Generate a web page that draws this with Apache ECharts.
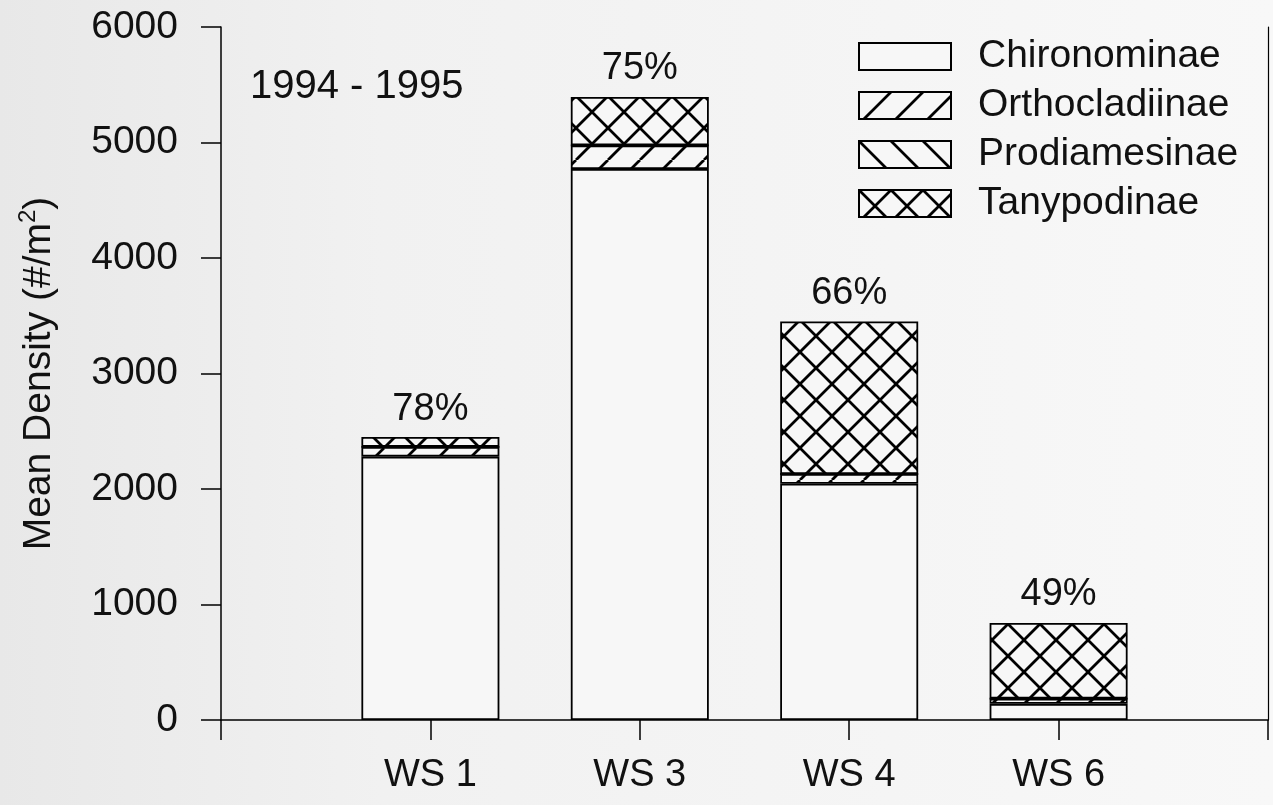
<!DOCTYPE html>
<html>
<head>
<meta charset="utf-8">
<script src="https://cdn.jsdelivr.net/npm/echarts@6/dist/echarts.min.js"></script>
<style>
  html, body { margin: 0; padding: 0; background: #efefef; }
  #chart { width: 1273px; height: 805px; }
</style>
</head>
<body>
<div id="chart"></div>
<script>
// Mean density of chironomid subfamilies per site, 1994 - 1995
const sites = ['WS 1', 'WS 3', 'WS 4', 'WS 6'];
const chironominae   = [2280, 4770, 2045, 140];
const orthocladiinae = [85, 205, 85, 45];
const prodiamesinae  = [0, 0, 0, 0];
const tanypodinae    = [85, 420, 1320, 655];
const percentLabels  = ['78%', '75%', '66%', '49%'];
const yTickValues    = [0, 1000, 2000, 3000, 4000, 5000, 6000];

const FONT = '"Liberation Sans", Arial, sans-serif';
const FILL = '#f7f7f7';

// Tiled hatch fills for the stacked segments
function hatch(fwd, back) {
  const s = 32;
  const c = document.createElement('canvas');
  c.width = s; c.height = s;
  const g = c.getContext('2d');
  g.fillStyle = FILL;
  g.fillRect(0, 0, s, s);
  g.strokeStyle = '#000';
  g.lineWidth = 2.8;
  g.beginPath();
  for (let k = -1; k <= 1; k++) {
    if (fwd) { g.moveTo(k * s, s); g.lineTo(k * s + s, 0); }
    if (back) { g.moveTo(k * s, 0); g.lineTo(k * s + s, s); }
  }
  g.stroke();
  return { image: c, repeat: 'repeat' };
}

const pad = arr => ['-', ...arr, '-'];

function barSeries(name, values, color, extra) {
  return Object.assign({
    name: name,
    type: 'bar',
    stack: 'total',
    barWidth: 138,
    data: pad(values),
    itemStyle: { color: color, borderColor: '#000', borderWidth: 1.8 },
    emphasis: { disabled: true }
  }, extra || {});
}

const chart = echarts.init(document.getElementById('chart'), null, { renderer: 'canvas' });

chart.setOption({
  animation: false,
  backgroundColor: {
    type: 'linear', x: 0, y: 0, x2: 1, y2: 0,
    colorStops: [{ offset: 0, color: '#e8e8e8' }, { offset: 0.3, color: '#f1f1f1' }, { offset: 1, color: '#f8f8f8' }]
  },
  title: {
    text: '1994 - 1995',
    left: 250, top: 67, padding: 0,
    textStyle: { fontFamily: FONT, fontSize: 40, fontWeight: 'normal', color: '#111' }
  },
  legend: {
    orient: 'vertical',
    left: 858, top: 37,
    itemWidth: 92, itemHeight: 27, itemGap: 10,
    icon: 'rect',
    padding: 0,
    textStyle: { fontFamily: FONT, fontSize: 39, color: '#111', padding: [0, 0, 0, 22] },
    data: ['Chironominae', 'Orthocladiinae', 'Prodiamesinae', 'Tanypodinae']
  },
  grid: { left: 221, right: 5, top: 27, bottom: 85 },
  xAxis: {
    type: 'category',
    boundaryGap: false,
    data: ['', ...sites, ''],
    axisLine: { lineStyle: { color: '#000', width: 1.5 } },
    axisTick: { show: true, interval: 0, length: 20, lineStyle: { color: '#000', width: 1.5 } },
    axisLabel: { interval: 0, margin: 37, fontFamily: FONT, fontSize: 38, color: '#111' },
    splitLine: { show: false }
  },
  yAxis: [{
    type: 'value',
    min: yTickValues[0], max: yTickValues[yTickValues.length - 1],
    interval: yTickValues[1] - yTickValues[0],
    name: 'Mean Density (#/m{sup|2})',
    nameLocation: 'middle',
    nameRotate: 90,
    nameGap: 159,
    nameTextStyle: {
      fontFamily: FONT, fontSize: 39, color: '#111',
      rich: { sup: { fontFamily: FONT, fontSize: 24, color: '#111', padding: [0, 0, 22, 0] } }
    },
    axisLine: { show: true, lineStyle: { color: '#000', width: 1.5 } },
    axisTick: { show: true, length: 20, lineStyle: { color: '#000', width: 1.5 } },
    axisLabel: { margin: 43, fontFamily: FONT, fontSize: 39, color: '#111', formatter: v => String(v) },
    splitLine: { show: false }
  }, {
    type: 'value',
    position: 'right',
    min: yTickValues[0], max: yTickValues[yTickValues.length - 1],
    axisLine: { show: true, lineStyle: { color: '#000', width: 1.2 } },
    axisTick: { show: false },
    axisLabel: { show: false },
    splitLine: { show: false }
  }],
  series: [
    barSeries('Chironominae', chironominae, FILL),
    barSeries('Orthocladiinae', orthocladiinae, hatch(true, false)),
    barSeries('Prodiamesinae', prodiamesinae, hatch(false, true)),
    barSeries('Tanypodinae', tanypodinae, hatch(true, true), {
      label: {
        show: true,
        position: 'top',
        distance: 9,
        fontFamily: FONT, fontSize: 38, color: '#111',
        formatter: p => percentLabels[p.dataIndex - 1] || ''
      }
    })
  ]
});
</script>
</body>
</html>
